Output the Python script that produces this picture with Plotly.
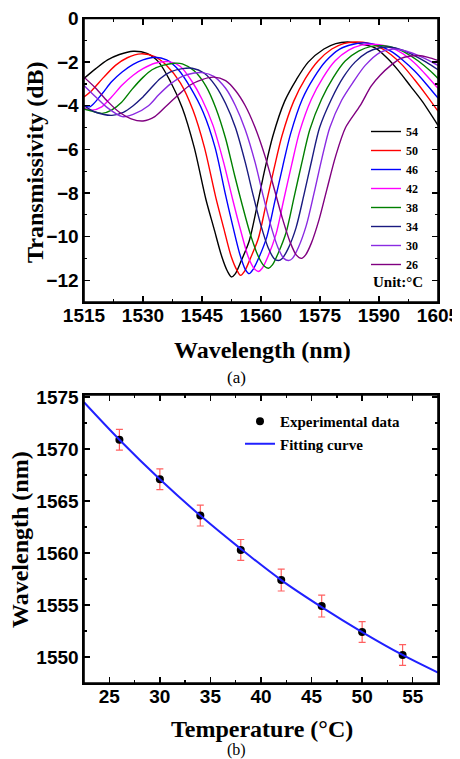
import plotly.graph_objects as go

# ---------------- Panel (a): transmission spectra ----------------
temps_a = ["54", "50", "46", "42", "38", "34", "30", "26"]
colors_a = ["#000000", "#ff0000", "#0000ff", "#ff00ff", "#008000", "#1a1a80", "#8a2be2", "#800080"]

wl_54 = [1515, 1518, 1521, 1524, 1527.5, 1531, 1534, 1537, 1540, 1543, 1546, 1548, 1550, 1551.5, 1552.5, 1553.5,
         1555, 1557, 1559, 1561, 1563, 1566, 1569, 1572, 1576, 1579, 1582, 1585, 1589, 1592, 1595, 1598, 1601, 1605]
tr_54 = [-2.75, -2.3, -1.9, -1.65, -1.5, -1.6, -2.0, -2.9, -4.1, -5.9, -8.3, -9.6, -10.9, -11.6, -11.85, -11.7,
         -11.1, -10.2, -8.6, -6.9, -5.4, -3.8, -2.8, -2.0, -1.4, -1.15, -1.08, -1.15, -1.35, -1.8, -2.4, -3.1, -3.8, -4.9]

wl_50 = [1515, 1517, 1520, 1523, 1526, 1529.5, 1533, 1536, 1539.5, 1542.7, 1545.6, 1548.5, 1550.5, 1552.4, 1553.9,
         1554.8, 1555.8, 1557.3, 1559.3, 1561.3, 1563.3, 1565.3, 1568.3, 1571.3, 1574.5, 1578, 1581, 1584, 1587,
         1590, 1593, 1596, 1599, 1602, 1605]
tr_50 = [-3.6, -3.3, -2.7, -2.15, -1.8, -1.62, -1.75, -2.15, -2.95, -4.2, -5.9, -8.2, -9.6, -10.9, -11.55,
         -11.78, -11.6, -11.0, -10.1, -8.5, -6.9, -5.4, -3.8, -2.75, -1.95, -1.4, -1.15, -1.08, -1.12,
         -1.3, -1.65, -2.15, -2.8, -3.5, -4.25]

wl_46 = [1515, 1516.5, 1519.6, 1522, 1524.7, 1527.5, 1530, 1533, 1536, 1539, 1542, 1545.3, 1548.3, 1551, 1552.8,
         1554.6, 1556, 1557, 1558, 1559.5, 1561.5, 1563.5, 1565.5, 1567.5, 1570.5, 1573.5, 1576.5, 1580, 1583.5,
         1586.5, 1590, 1593, 1596, 1599, 1602, 1605]
tr_46 = [-3.98, -4.05, -3.45, -2.9, -2.45, -2.1, -1.9, -1.78, -1.9, -2.35, -3.15, -4.3, -5.9, -8.1, -9.5,
         -10.8, -11.5, -11.7, -11.5, -10.95, -10.0, -8.4, -6.8, -5.3, -3.7, -2.7, -1.95, -1.4, -1.18,
         -1.12, -1.25, -1.5, -1.9, -2.4, -3.0, -3.65]

wl_42 = [1515, 1517, 1519.5, 1522, 1524.7, 1527.5, 1530, 1533, 1536.5, 1539.5, 1542.5, 1545, 1547.8, 1550.5,
         1552.8, 1554.8, 1556.7, 1558.2, 1559.3, 1560.3, 1561.8, 1563.8, 1565.8, 1567.8, 1569.8, 1572.8, 1575.8,
         1578.8, 1582.3, 1585.5, 1588.5, 1591.5, 1594.5, 1597.5, 1600.5, 1603, 1605]
tr_42 = [-4.1, -4.2, -4.05, -3.6, -3.05, -2.6, -2.3, -2.05, -1.98, -2.2, -2.9, -3.7, -4.9, -6.6,
         -8.3, -9.7, -10.9, -11.45, -11.6, -11.45, -10.9, -9.9, -8.3, -6.7, -5.2, -3.7, -2.7,
         -1.95, -1.45, -1.22, -1.18, -1.25, -1.45, -1.8, -2.3, -2.8, -3.2]

wl_38 = [1515, 1517, 1519.6, 1522, 1524.5, 1527.2, 1530, 1532.3, 1535, 1538, 1540, 1543, 1546, 1548.5, 1551,
         1553.3, 1555.3, 1557.3, 1559.3, 1560.8, 1561.9, 1562.9, 1564.4, 1566.4, 1568.4, 1570.4, 1572.4, 1575.4,
         1578.4, 1581.4, 1584.8, 1588, 1591, 1594, 1597, 1600, 1603, 1605]
tr_38 = [-4.15, -4.25, -4.35, -4.2, -3.85, -3.25, -2.7, -2.35, -2.15, -2.05, -2.08, -2.4, -3.1, -4.1, -5.5,
         -7.2, -8.6, -9.9, -10.9, -11.35, -11.45, -11.3, -10.75, -9.8, -8.2, -6.6, -5.1, -3.7,
         -2.7, -1.95, -1.5, -1.28, -1.25, -1.35, -1.6, -1.95, -2.4, -2.75]

wl_34 = [1515, 1518, 1522.1, 1525, 1527.5, 1529.7, 1532, 1534.4, 1537, 1540, 1542.5, 1545.5, 1548.5, 1551,
         1553.5, 1556, 1558, 1560, 1561.8, 1563.3, 1564.4, 1565.4, 1566.9, 1568.9, 1570.9, 1572.9, 1574.9,
         1577.9, 1580.9, 1583.9, 1587, 1590, 1593, 1596, 1599, 1602, 1605]
tr_34 = [-4.0, -4.3, -4.44, -4.3, -4.0, -3.65, -3.2, -2.75, -2.45, -2.3, -2.28, -2.5, -3.1, -3.9,
         -5.0, -6.6, -8.1, -9.5, -10.5, -11.0, -11.1, -11.0, -10.55, -9.6, -8.1, -6.5, -5.0,
         -3.7, -2.7, -2.0, -1.55, -1.35, -1.32, -1.45, -1.7, -2.0, -2.35]

wl_30 = [1515, 1518, 1521, 1524.7, 1527.5, 1531.4, 1534, 1537, 1540, 1543, 1545, 1548, 1551, 1553.5, 1556,
         1558.5, 1560.5, 1562.5, 1564.3, 1565.8, 1567, 1568, 1569.5, 1571.5, 1573.5, 1575.5, 1577.5, 1580.5,
         1583.5, 1586.5, 1590.3, 1593.6, 1597, 1600, 1603, 1605]
tr_30 = [-3.07, -3.6, -4.1, -4.5, -4.4, -4.0, -3.5, -3.0, -2.65, -2.5, -2.48, -2.65, -3.2, -4.0, -5.1,
         -6.6, -8.1, -9.5, -10.5, -11.0, -11.1, -11.0, -10.5, -9.5, -8.0, -6.4, -5.0, -3.75,
         -2.9, -2.15, -1.55, -1.4, -1.5, -1.7, -1.95, -2.15]

wl_26 = [1515, 1518, 1521, 1524, 1527, 1530, 1533, 1536, 1539, 1542, 1545, 1548, 1551, 1553.5, 1556, 1558.5,
         1561, 1563.5, 1565.5, 1567.5, 1569, 1570.3, 1571.3, 1572.8, 1574.8, 1576.8, 1579, 1581.5, 1585.2,
         1588, 1590.3, 1593, 1595.3, 1598, 1600, 1602.5, 1605]
tr_26 = [-2.69, -3.2, -3.8, -4.3, -4.6, -4.7, -4.5, -4.0, -3.5, -3.05, -2.8, -2.69, -2.85, -3.3, -4.0, -5.0,
         -6.3, -7.9, -9.2, -10.3, -10.85, -11.0, -10.85, -10.3, -9.2, -7.8, -6.3, -5.0, -4.0,
         -3.1, -2.6, -2.15, -1.85, -1.72, -1.7, -1.78, -1.92]

wl_all = [wl_54, wl_50, wl_46, wl_42, wl_38, wl_34, wl_30, wl_26]
tr_all = [tr_54, tr_50, tr_46, tr_42, tr_38, tr_34, tr_30, tr_26]

# ---------------- Panel (b): dip wavelength vs temperature ----------------
temp_exp = [26, 30, 34, 38, 42, 46, 50, 54]
wl_exp = [1570.9, 1567.1, 1563.6, 1560.3, 1557.4, 1554.9, 1552.4, 1550.2]
wl_err = [1.0, 1.0, 1.0, 1.0, 1.05, 1.05, 1.0, 1.0]

temp_fit = [22.5, 26, 30, 34, 38, 42, 46, 50, 54, 57.5]
wl_fit = [1574.5, 1570.9, 1567.1, 1563.6, 1560.4, 1557.4, 1554.8, 1552.4, 1550.2, 1548.5]

# the page body has an 8px margin; the figure is sized to fill the rest of the window
OFF = 8
W, H = 460 - OFF, 759 - OFF
def fx(p):
    return (p - OFF) / W
def fy(p):
    return 1 - (p - OFF) / H

fig = go.Figure()

for name, col, xs, ys in zip(temps_a, colors_a, wl_all, tr_all):
    fig.add_trace(go.Scatter(x=xs, y=ys, mode="lines", name=name,
                             line=dict(color=col, width=1.4, shape="spline", smoothing=0.8),
                             xaxis="x", yaxis="y", legend="legend"))

fig.add_trace(go.Scatter(x=temp_exp, y=wl_exp, mode="markers", name="Experimental data",
                         marker=dict(color="black", size=8),
                         error_y=dict(type="data", array=wl_err, visible=True, color="#ff6060",
                                      thickness=1.2, width=3.5),
                         xaxis="x2", yaxis="y2", legend="legend2"))
fig.add_trace(go.Scatter(x=temp_fit, y=wl_fit, mode="lines", name="Fitting curve",
                         line=dict(color="#2020ff", width=2, shape="spline", smoothing=1.0),
                         xaxis="x2", yaxis="y2", legend="legend2"))

tickfont = dict(family="Liberation Sans, Arial", size=19, color="black", weight="bold")
common = dict(showline=True, linewidth=1.6, linecolor="black", mirror="ticks", ticks="inside",
              ticklen=6, tickwidth=1.3, tickcolor="black", showgrid=False, zeroline=False,
              tickfont=tickfont, automargin=False, ticklabeloverflow="allow", layer="above traces")
titlefont = dict(family="Liberation Serif, Times New Roman", size=24, color="black", weight="bold")

fig.update_layout(
    width=W, height=H, plot_bgcolor="white", paper_bgcolor="white",
    margin=dict(l=0, r=0, t=0, b=0, autoexpand=False),
    xaxis=dict(domain=[fx(84), fx(438)], range=[1515, 1605], tick0=1515, dtick=15, ticklabelstandoff=-4,
               minor=dict(dtick=7.5, ticks="inside", ticklen=3, tickcolor="black"), anchor="y", **common),
    yaxis=dict(domain=[fy(302), fy(18.5)], range=[-13, 0], tickvals=[0, -2, -4, -6, -8, -10, -12],
               minor=dict(dtick=1, ticks="inside", ticklen=3, tickcolor="black"), anchor="x", **common),
    xaxis2=dict(domain=[fx(84), fx(438)], range=[22.5, 57.5], tick0=0, dtick=5, ticklabelstandoff=-4,
                minor=dict(dtick=2.5, ticks="inside", ticklen=3, tickcolor="black"), anchor="y2", **common),
    yaxis2=dict(domain=[fy(683), fy(395)], range=[1547.5, 1575.2], tick0=0, dtick=5,
                minor=dict(dtick=2.5, ticks="inside", ticklen=3, tickcolor="black"), anchor="x2", **common),
    legend=dict(x=fx(366), y=fy(117), xanchor="left", yanchor="top", bgcolor="rgba(0,0,0,0)",
                font=dict(family="Liberation Serif, Times New Roman", size=12, color="black", weight="bold"),
                tracegroupgap=0, itemwidth=30),
    legend2=dict(x=fx(240), y=fy(405), xanchor="left", yanchor="top", bgcolor="rgba(0,0,0,0)",
                 font=dict(family="Liberation Serif, Times New Roman", size=15, color="black", weight="bold"),
                 tracegroupgap=0, itemwidth=30),
    showlegend=True,
)

# frame around each panel (axis domain box)
for xr, yr in (("x domain", "y domain"), ("x2 domain", "y2 domain")):
    fig.add_shape(type="rect", xref=xr, yref=yr, x0=0, x1=1, y0=0, y1=1,
                  line=dict(color="black", width=1.6), fillcolor="rgba(0,0,0,0)", layer="above")

ann = [
    dict(text="Transmissivity (dB)", x=fx(35), y=fy(162), textangle=-90, font=titlefont),
    dict(text="Wavelength (nm)", x=fx(262), y=fy(350), font=titlefont),
    dict(text="(a)", x=fx(237), y=fy(377),
         font=dict(family="Liberation Serif, Times New Roman", size=17, color="black")),
    dict(text="Unit:°C", x=fx(398), y=fy(282),
         font=dict(family="Liberation Serif, Times New Roman", size=15, color="black", weight="bold")),
    dict(text="Wavelength (nm)", x=fx(20), y=fy(540), textangle=-90, font=titlefont),
    dict(text="Temperature (°C)", x=fx(262), y=fy(729), font=titlefont),
    dict(text="(b)", x=fx(237), y=fy(750),
         font=dict(family="Liberation Serif, Times New Roman", size=16, color="black")),
]
for a in ann:
    a.update(xref="paper", yref="paper", showarrow=False, xanchor="center", yanchor="middle")
fig.update_layout(annotations=ann)

fig.write_html("out.html", config={"displayModeBar": False, "staticPlot": True})
